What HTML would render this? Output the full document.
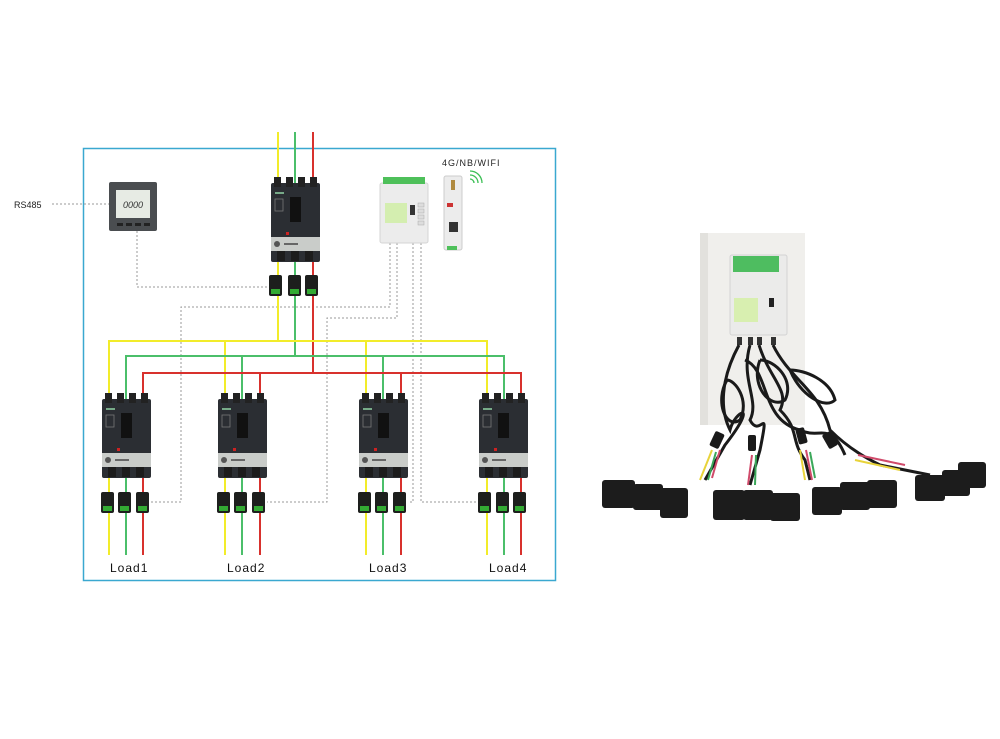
<!DOCTYPE html>
<html><head><meta charset="utf-8"><style>
html,body{margin:0;padding:0;background:#fff;}
svg{display:block}
text{font-family:"Liberation Sans",sans-serif;}
</style></head><body>
<svg width="1000" height="739" viewBox="0 0 1000 739" xmlns="http://www.w3.org/2000/svg">
<defs>
<g id="brk">
  <rect x="0" y="6" width="49" height="79" rx="2" fill="#2b2e33"/>
  <rect x="3" y="0" width="7" height="10" fill="#222"/><rect x="15" y="0" width="7" height="10" fill="#222"/>
  <rect x="27" y="0" width="7" height="10" fill="#222"/><rect x="39" y="0" width="7" height="10" fill="#222"/>
  <rect x="19" y="20" width="11" height="25" fill="#111"/>
  <rect x="4" y="15" width="9" height="2" fill="#7a8"/>
  <rect x="4" y="22" width="8" height="12" fill="none" stroke="#777" stroke-width="0.8"/>
  <rect x="0" y="60" width="49" height="14" fill="#c9ccc9"/>
  <circle cx="6" cy="67" r="3" fill="#555"/>
  <rect x="13" y="66" width="14" height="2" fill="#666"/>
  <rect x="6" y="74" width="8" height="10" fill="#1c1c1c"/><rect x="20" y="74" width="8" height="10" fill="#1c1c1c"/><rect x="34" y="74" width="8" height="10" fill="#1c1c1c"/>
  <rect x="15" y="55" width="3" height="3" fill="#c22"/>
</g>
<g id="ct">
  <rect x="0" y="0" width="13" height="21" rx="2" fill="#1d1f1d"/>
  <rect x="2" y="14" width="9" height="5" fill="#3a3"/>
</g>
</defs>

<rect x="83.5" y="148.5" width="472" height="432" fill="none" stroke="#3aa8d0" stroke-width="1.5"/>

<g fill="none" stroke="#9a9a9a" stroke-width="1" stroke-dasharray="2,2">
  <path d="M52 204 H109"/>
  <path d="M137 231 V287 H270"/>
  <path d="M390 243 V307 H181 V502 H151"/>
  <path d="M397 243 V318 H327 V502 H267"/>
  <path d="M413 243 V502 H408"/>
  <path d="M421 243 V502 H479"/>
</g>

<g fill="none" stroke-width="2">
  <path d="M278 132 V341" stroke="#f2ec2a"/>
  <path d="M295 132 V356" stroke="#4bbf6a"/>
  <path d="M313 132 V373" stroke="#d8312d"/>
  <path d="M109 555 V341 H487 V555 M225 341 V555 M366 341 V555" stroke="#f2ec2a"/>
  <path d="M126 555 V356 H504 V555 M242 356 V555 M383 356 V555" stroke="#4bbf6a"/>
  <path d="M143 555 V373 H521 V555 M260 373 V555 M401 373 V555" stroke="#d8312d"/>
</g>

<use href="#brk" x="271" y="177"/>
<use href="#ct" x="269" y="275"/><use href="#ct" x="288" y="275"/><use href="#ct" x="305" y="275"/>

<use href="#brk" x="102" y="393"/><use href="#brk" x="218" y="393"/>
<use href="#brk" x="359" y="393"/><use href="#brk" x="479" y="393"/>
<g>
<use href="#ct" x="101" y="492"/><use href="#ct" x="118" y="492"/><use href="#ct" x="136" y="492"/>
<use href="#ct" x="217" y="492"/><use href="#ct" x="234" y="492"/><use href="#ct" x="252" y="492"/>
<use href="#ct" x="358" y="492"/><use href="#ct" x="375" y="492"/><use href="#ct" x="393" y="492"/>
<use href="#ct" x="478" y="492"/><use href="#ct" x="496" y="492"/><use href="#ct" x="513" y="492"/>
</g>

<rect x="109" y="182" width="48" height="49" rx="2" fill="#4a4d50"/>
<rect x="116" y="190" width="34" height="28" fill="#e7ebe4"/>
<text x="133" y="208" font-size="9" text-anchor="middle" fill="#333" font-style="italic">0000</text>
<g fill="#222"><rect x="117" y="223" width="6" height="3"/><rect x="126" y="223" width="6" height="3"/><rect x="135" y="223" width="6" height="3"/><rect x="144" y="223" width="6" height="3"/></g>
<text x="14" y="208" font-size="9" fill="#222">RS485</text>

<rect x="380" y="183" width="48" height="60" rx="2" fill="#ececec" stroke="#d4d4d4"/>
<rect x="383" y="177" width="42" height="7" fill="#4ec05a"/>
<rect x="385" y="203" width="22" height="20" fill="#d4eeb0"/>
<rect x="410" y="205" width="5" height="10" fill="#333"/>
<g fill="#ddd" stroke="#aaa" stroke-width="0.5"><rect x="418" y="203" width="6" height="4"/><rect x="418" y="209" width="6" height="4"/><rect x="418" y="215" width="6" height="4"/><rect x="418" y="221" width="6" height="4"/></g>

<rect x="444" y="176" width="18" height="74" rx="2" fill="#ececec" stroke="#ccc"/>
<rect x="451" y="180" width="4" height="10" fill="#b08a40"/>
<rect x="447" y="203" width="6" height="4" fill="#c33"/>
<rect x="449" y="222" width="9" height="10" fill="#333"/>
<rect x="447" y="246" width="10" height="4" fill="#4ec05a"/>
<text x="442" y="166" font-size="9" fill="#222" letter-spacing="1">4G/NB/WIFI</text>
<g fill="none" stroke="#3cbf55" stroke-width="1.3">
  <path d="M470 179 a4 4 0 0 1 4 4"/><path d="M470 175 a8 8 0 0 1 8 8"/><path d="M470 171 a12 12 0 0 1 12 12"/>
</g>

<g font-size="12" fill="#111" letter-spacing="1">
<text x="110" y="572">Load1</text><text x="227" y="572">Load2</text>
<text x="369" y="572">Load3</text><text x="489" y="572">Load4</text>
</g>

<!-- RIGHT PHOTO -->
<rect x="700" y="233" width="105" height="192" fill="#f0efec"/>
<rect x="700" y="233" width="8" height="192" fill="#e2e1dd"/>
<rect x="730" y="255" width="57" height="80" rx="2" fill="#ebebea" stroke="#d3d3d3"/>
<rect x="733" y="256" width="46" height="16" fill="#4ebd60"/>
<rect x="734" y="298" width="24" height="24" fill="#d8efb0"/>
<rect x="769" y="298" width="5" height="9" fill="#222"/>
<g fill="#333"><rect x="737" y="337" width="5" height="8"/><rect x="748" y="337" width="5" height="8"/><rect x="757" y="337" width="5" height="8"/><rect x="771" y="337" width="5" height="8"/></g>
<g fill="none" stroke="#1a1a1a" stroke-width="3">
  <path d="M739 345 C720 380 720 410 730 430 C735 410 760 400 725 445 L705 480"/>
  <path d="M750 345 C740 380 760 400 750 420 C760 440 770 400 760 450 L750 485"/>
  <path d="M759 345 C770 380 790 390 780 410 C800 430 790 440 805 460 L810 480"/>
  <path d="M773 345 C790 380 820 390 830 430 C850 450 870 460 880 465 L930 475"/>
  <path d="M745 360 C770 370 760 420 800 430 C820 440 830 420 845 455"/>
  <path d="M727 380 C715 400 725 430 740 420 C750 400 735 380 727 380"/>
  <path d="M760 360 C750 385 770 410 785 400 C795 380 775 360 760 360"/>
  <path d="M790 370 C800 395 825 410 835 400 C830 380 805 370 790 370"/>
</g>
<g fill="#1a1a1a">
  <rect x="712" y="432" width="10" height="16" rx="2" transform="rotate(25 717 440)"/>
  <rect x="748" y="435" width="8" height="16" rx="2"/>
  <rect x="797" y="428" width="9" height="16" rx="2" transform="rotate(-15 801 436)"/>
  <rect x="825" y="432" width="10" height="16" rx="2" transform="rotate(-30 830 440)"/>
</g>
<g fill="none" stroke-width="2">
  <path d="M712 450 L700 480" stroke="#e8d33a"/><path d="M716 452 L708 480" stroke="#3ba85a"/>
  <path d="M752 455 L748 485" stroke="#d04a6a"/><path d="M756 455 L755 485" stroke="#3ba85a"/>
  <path d="M800 450 L805 480" stroke="#e8d33a"/><path d="M806 450 L812 480" stroke="#d04a6a"/>
  <path d="M855 460 L900 470" stroke="#e8d33a"/><path d="M858 455 L905 465" stroke="#d04a6a"/>
  <path d="M720 450 L712 478" stroke="#d04a6a"/><path d="M810 452 L815 478" stroke="#3ba85a"/>
</g>
<g fill="#1c1c1c">
  <rect x="602" y="480" width="33" height="28" rx="3"/><rect x="633" y="484" width="30" height="26" rx="3"/><rect x="660" y="488" width="28" height="30" rx="3"/>
  <rect x="713" y="490" width="32" height="30" rx="3"/><rect x="743" y="490" width="30" height="30" rx="3"/><rect x="770" y="493" width="30" height="28" rx="3"/>
  <rect x="812" y="487" width="30" height="28" rx="3"/><rect x="840" y="482" width="30" height="28" rx="3"/><rect x="867" y="480" width="30" height="28" rx="3"/>
  <rect x="915" y="475" width="30" height="26" rx="3"/><rect x="942" y="470" width="28" height="26" rx="3"/><rect x="958" y="462" width="28" height="26" rx="3"/>
</g>
</svg>
</body></html>
